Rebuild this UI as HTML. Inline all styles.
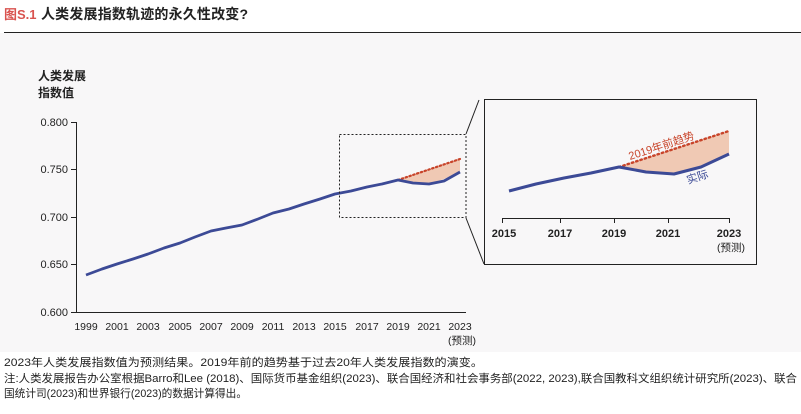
<!DOCTYPE html>
<html><head><meta charset="utf-8"><style>
body{margin:0;width:801px;height:409px;background:#fff;overflow:hidden;font-family:"Liberation Sans","Noto Sans CJK SC",sans-serif;}
</style></head><body>
<svg width="801" height="409" viewBox="0 0 801 409" xmlns="http://www.w3.org/2000/svg" font-family="Liberation Sans, Noto Sans CJK SC, sans-serif">
<rect x="0" y="33" width="801" height="319" fill="#f8f7f8"/>
<line x1="4" y1="32.5" x2="801" y2="32.5" stroke="#222" stroke-width="1"/>
<text x="4" y="19" font-size="13" font-weight="bold" fill="#d9534f">图S.1</text>
<text x="41" y="19" font-size="14" font-weight="bold" fill="#222" textLength="207">人类发展指数轨迹的永久性改变?</text>
<text x="38" y="80" font-size="12" font-weight="bold" fill="#222">人类发展</text>
<text x="38" y="97" font-size="12" font-weight="bold" fill="#222">指数值</text>
<g font-size="11" fill="#222" text-anchor="end">
<text x="68" y="126">0.800</text><text x="68" y="173">0.750</text><text x="68" y="221">0.700</text><text x="68" y="268">0.650</text><text x="68" y="316">0.600</text>
</g>
<g stroke="#222" stroke-width="1">
<line x1="76.5" y1="122" x2="76.5" y2="312"/><line x1="76" y1="312.5" x2="466" y2="312.5"/>
<line x1="71" y1="122.5" x2="77" y2="122.5"/><line x1="71" y1="169.5" x2="77" y2="169.5"/><line x1="71" y1="217.5" x2="77" y2="217.5"/><line x1="71" y1="264.5" x2="77" y2="264.5"/><line x1="71" y1="312.5" x2="77" y2="312.5"/>
</g>
<g font-size="10.5" fill="#222" text-anchor="middle">
<text x="86" y="330">1999</text><text x="117" y="330">2001</text><text x="148" y="330">2003</text><text x="180" y="330">2005</text><text x="211" y="330">2007</text><text x="242" y="330">2009</text><text x="273" y="330">2011</text><text x="304" y="330">2013</text><text x="335" y="330">2015</text><text x="367" y="330">2017</text><text x="398" y="330">2019</text><text x="429" y="330">2021</text><text x="460" y="330">2023</text><text x="462" y="344">(预测)</text>
</g>
<polygon points="398,180 460,159 460,172 444,179 429,184 413,183" fill="#f0c9b4"/>
<line x1="398" y1="180" x2="460" y2="159" stroke="#c8442a" stroke-width="2.2" stroke-dasharray="1.5,2.5" stroke-linecap="round"/>
<polyline fill="none" stroke="#3c4a96" stroke-width="2.8" stroke-linejoin="round" points="86,275 102,269 117,264 133,259 148,254 164,248 180,243 195,237 211,231 226,228 242,225 258,219 273,213 289,209 304,204 320,199 335,194 351,191 367,187 382,184 398,180 413,183 429,184 444,181 460,172"/>
<rect x="339.5" y="134.5" width="126.5" height="83" fill="none" stroke="#222" stroke-width="1" stroke-dasharray="2,2"/>
<line x1="466" y1="134" x2="479" y2="100" stroke="#222" stroke-width="1"/>
<line x1="466" y1="218" x2="484" y2="264" stroke="#222" stroke-width="1"/>
<rect x="484.5" y="99.5" width="272" height="165" fill="#f8f7f8" stroke="#222" stroke-width="1"/>
<polygon points="619,167 729,131 729,154 701,167 674,174 646,172" fill="#f0c9b4"/>
<line x1="619" y1="167" x2="729" y2="131" stroke="#c8442a" stroke-width="2.4" stroke-dasharray="1.5,3" stroke-linecap="round"/>
<polyline fill="none" stroke="#3c4a96" stroke-width="3" stroke-linejoin="round" points="509,191 536,184 564,178 591,173 619,167 646,172 674,174 701,167 729,154"/>
<text x="630" y="160" font-size="11" fill="#c8442a" transform="rotate(-18 630 160)">2019年前趋势</text>
<text x="688" y="184" font-size="11" fill="#3c4a96" transform="rotate(-18 688 184)">实际</text>
<g stroke="#222" stroke-width="1">
<line x1="502" y1="218.5" x2="730" y2="218.5"/>
<line x1="502.5" y1="218" x2="502.5" y2="223"/><line x1="560.5" y1="218" x2="560.5" y2="223"/><line x1="614.5" y1="218" x2="614.5" y2="223"/><line x1="668.5" y1="218" x2="668.5" y2="223"/><line x1="729.5" y1="218" x2="729.5" y2="223"/>
</g>
<g font-size="11" font-weight="bold" fill="#222" text-anchor="middle">
<text x="504" y="237">2015</text><text x="560" y="237">2017</text><text x="614" y="237">2019</text><text x="668" y="237">2021</text><text x="729" y="237">2023</text><text x="731" y="251" font-weight="normal" font-size="10.5">(预测)</text>
</g>
<g font-size="11" fill="#222">
<text x="4" y="366" textLength="479" lengthAdjust="spacingAndGlyphs">2023年人类发展指数值为预测结果。2019年前的趋势基于过去20年人类发展指数的演变。</text>
<text x="4" y="382" textLength="793" lengthAdjust="spacingAndGlyphs">注:人类发展报告办公室根据Barro和Lee (2018)、国际货币基金组织(2023)、联合国经济和社会事务部(2022, 2023),联合国教科文组织统计研究所(2023)、联合</text>
<text x="4" y="397" textLength="243" lengthAdjust="spacingAndGlyphs">国统计司(2023)和世界银行(2023)的数据计算得出。</text>
</g>
</svg>
</body></html>
